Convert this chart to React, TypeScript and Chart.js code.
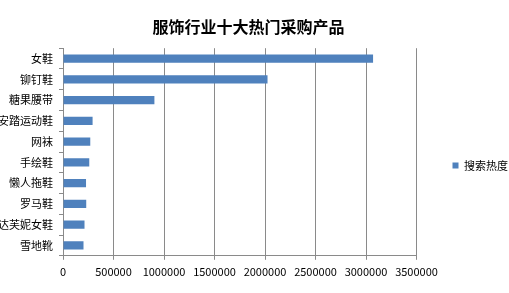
import React, { useEffect, useRef } from "react";
import { Chart, registerables } from "chart.js";

Chart.register(...registerables);

const categories = ["女鞋", "铆钉鞋", "糖果腰带", "安踏运动鞋", "网袜", "手绘鞋", "懒人拖鞋", "罗马鞋", "达芙妮女鞋", "雪地靴"];
const searchHeat = [3070000, 2025000, 905000, 293000, 270000, 260000, 228000, 230000, 213000, 203000];
const seriesName = "搜索热度";
const titleText = "服饰行业十大热门采购产品";
const xMax = 3500000;
const xStep = 500000;

const FONT = "'Noto Sans CJK SC', 'Noto Sans', sans-serif";
const CANVAS_LEFT = -21;
const CANVAS_W = 539;

export default function App() {
  const ref = useRef<HTMLCanvasElement | null>(null);
  useEffect(() => {
    if (!ref.current) return;
    const chart = new Chart(ref.current, {
      type: "bar",
      data: {
        labels: categories,
        datasets: [
          {
            label: seriesName,
            data: searchHeat,
            backgroundColor: "#4F81BD",
            borderWidth: 0,
            barPercentage: 0.4,
            categoryPercentage: 1,
          },
        ],
      },
      options: {
        indexAxis: "y",
        responsive: false,
        animation: false,
        layout: { padding: { left: 0, right: 0, top: 0, bottom: 10 } },
        plugins: {
          title: {
            display: true,
            text: titleText,
            color: "#000",
            font: { family: FONT, size: 16, weight: "bold" },
            padding: { top: 17, bottom: 12 },
          },
          legend: {
            display: true,
            position: "right",
            title: { display: true, text: "", font: { size: 10 }, padding: { top: 0, bottom: 36 } },
            labels: {
              boxWidth: 6,
              boxHeight: 6,
              padding: 36,
              color: "#000",
              font: { family: FONT, size: 11 },
            },
          },
          tooltip: { enabled: false },
        },
        scales: {
          x: {
            min: 0,
            max: xMax,
            ticks: {
              stepSize: xStep,
              color: "#000",
              font: { family: FONT, size: 11 },
              padding: 5,
              maxRotation: 0,
              callback: (v: any) => String(v),
            },
            grid: { color: "#8a8a8a", tickLength: 4, lineWidth: 1 },
            border: { color: "#8a8a8a" },
          },
          y: {
            afterFit: (scale: any) => {
              scale.width = 84;
            },
            ticks: {
              color: "#000",
              font: { family: FONT, size: 11 },
              padding: 6,
            },
            grid: { drawOnChartArea: false, color: "#8a8a8a", tickLength: 4, offset: true },
            border: { color: "#8a8a8a" },
          },
        },
      },
    });
    return () => chart.destroy();
  }, []);
  return (
    <div style={{ position: "fixed", left: 0, top: 0, width: 509, height: 293, background: "#fff", overflow: "hidden" }}>
      <canvas
        ref={ref}
        width={CANVAS_W}
        height={293}
        style={{ display: "block", position: "absolute", left: CANVAS_LEFT, top: 0 }}
      />
    </div>
  );
}
